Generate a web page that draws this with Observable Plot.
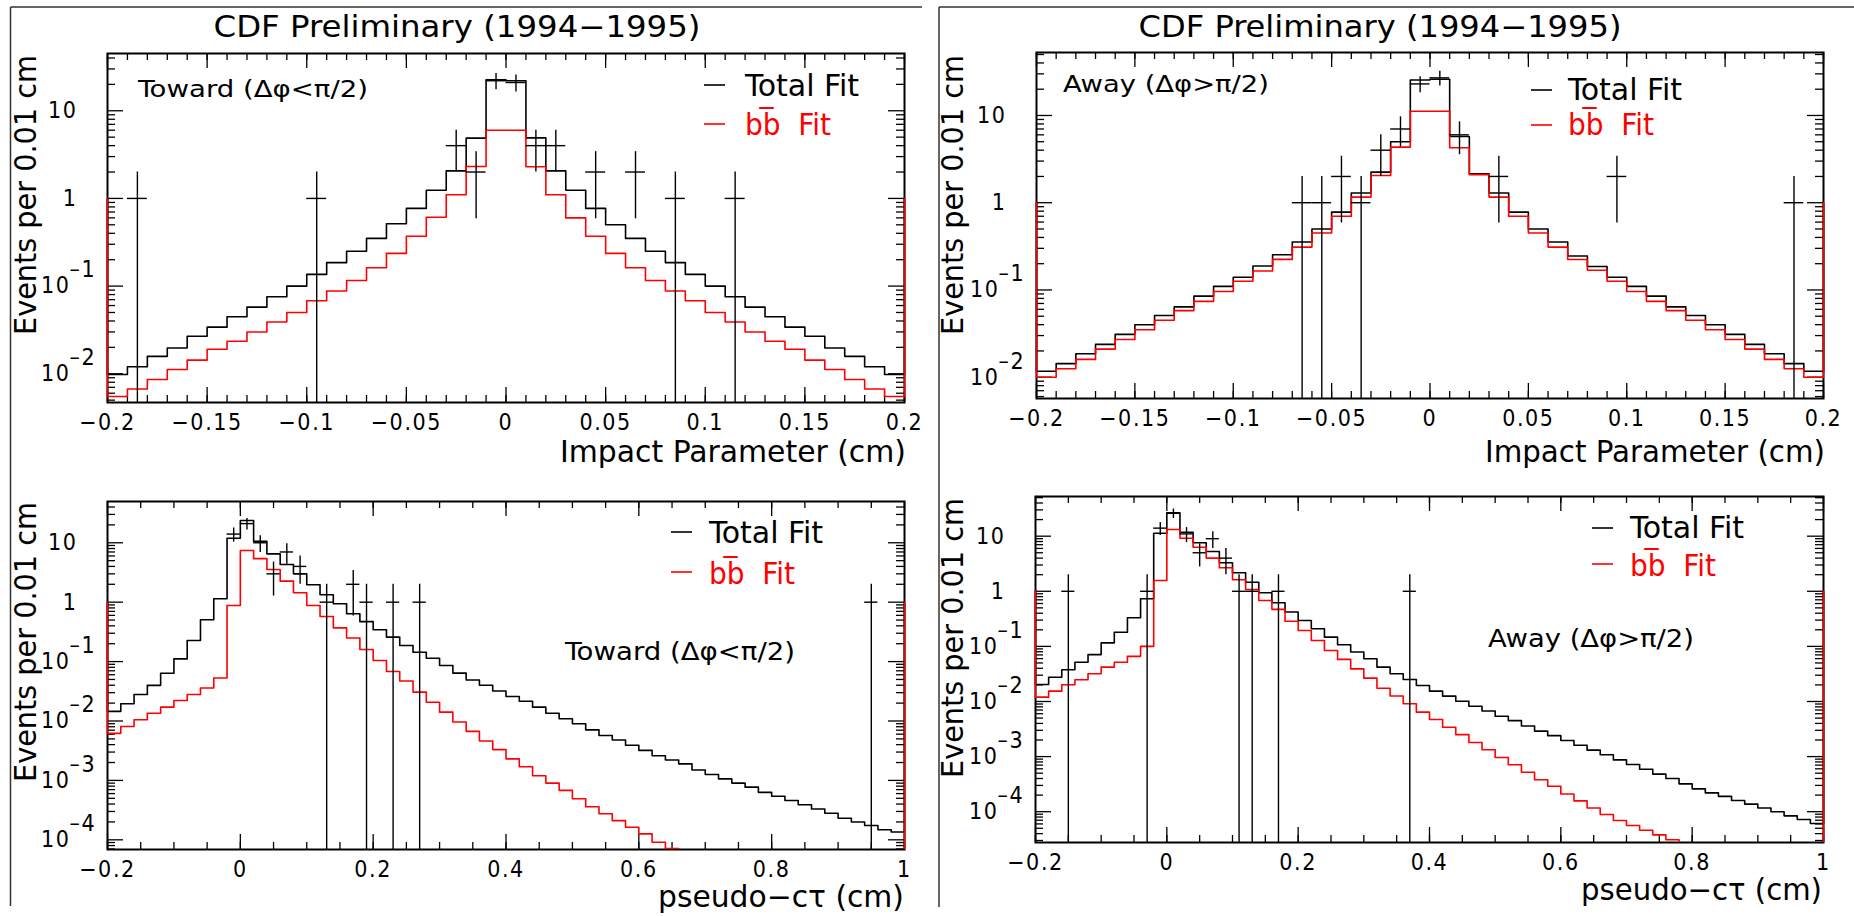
<!DOCTYPE html>
<html>
<head>
<meta charset="utf-8">
<script src="https://cdn.jsdelivr.net/npm/d3@7"></script>
<script src="https://cdn.jsdelivr.net/npm/@observablehq/plot@0.6"></script>
<style>
  html, body { margin: 0; padding: 0; background: #fff; }
  #page { position: relative; width: 1854px; height: 916px; overflow: hidden; background: #fff; }
  #page svg text { letter-spacing: 0.07em; white-space: pre; }
  #page svg.overlay text { letter-spacing: 0; }
  .panel { position: absolute; }
</style>
</head>
<body>
<div id="page"></div>
<script>
const FONT = '"DejaVu Sans Condensed", "DejaVu Sans", sans-serif';

// ---- Impact parameter: 40 bins of 0.01 cm starting at -0.2 cm ----
const ipBinStart = -0.2, ipBinWidth = 0.01;

const towardIpTotal = [0.0098, 0.012, 0.0158, 0.0197, 0.0268, 0.034, 0.0447, 0.0575, 0.0755, 0.1,
  0.136, 0.185, 0.25, 0.35, 0.515, 0.77, 1.24, 2.06, 4.88, 22.5,
  22, 4.9, 2.06, 1.24, 0.77, 0.5, 0.35, 0.25, 0.185, 0.136,
  0.1, 0.0755, 0.0575, 0.0447, 0.034, 0.0268, 0.0197, 0.0158, 0.012, 0.0098];
const towardIpBb = [0.0055, 0.0067, 0.0086, 0.0112, 0.0143, 0.019, 0.0235, 0.03, 0.039, 0.05,
  0.068, 0.088, 0.116, 0.162, 0.236, 0.37, 0.61, 1.1, 2.31, 6.0,
  6.0, 2.3, 1.1, 0.6, 0.37, 0.236, 0.162, 0.116, 0.088, 0.068,
  0.05, 0.039, 0.03, 0.0235, 0.019, 0.0143, 0.0112, 0.0086, 0.0067, 0.0055];
const towardIpX = [-0.185, -0.095, -0.025, -0.015, -0.005, 0.005, 0.015, 0.025, 0.045, 0.065, 0.085, 0.115];
const towardIpN = [1, 1, 4, 2, 22, 21, 4, 4, 2, 2, 1, 1];

const awayIpTotal = [0.0117, 0.0143, 0.0186, 0.0238, 0.031, 0.04, 0.051, 0.064, 0.085, 0.11,
  0.14, 0.188, 0.253, 0.354, 0.5, 0.78, 1.29, 2.24, 5.0, 25.5,
  26, 5.75, 2.15, 1.29, 0.78, 0.5, 0.355, 0.245, 0.186, 0.14,
  0.11, 0.085, 0.064, 0.051, 0.04, 0.031, 0.0238, 0.0186, 0.0143, 0.0117];
const awayIpBb = [0.01, 0.0125, 0.016, 0.021, 0.027, 0.035, 0.045, 0.058, 0.074, 0.096,
  0.126, 0.165, 0.224, 0.31, 0.45, 0.70, 1.16, 2.05, 4.34, 11.2,
  11.2, 4.26, 2.1, 1.16, 0.70, 0.45, 0.31, 0.223, 0.168, 0.126,
  0.096, 0.074, 0.058, 0.045, 0.035, 0.027, 0.021, 0.016, 0.0125, 0.01];
const awayIpX = [-0.065, -0.055, -0.045, -0.035, -0.025, -0.015, -0.005, 0.005, 0.015, 0.035, 0.095, 0.185];
const awayIpN = [1, 1, 2, 1, 4, 7, 23, 27, 6, 2, 2, 1];

// ---- Pseudo-c tau: 60 bins of 0.02 cm starting at -0.2 cm ----
const ctBinStart = -0.2, ctBinWidth = 0.02;

const towardCtTotal = [0.0145, 0.0195, 0.0279, 0.0398, 0.0638, 0.111, 0.226, 0.505, 1.14, 11.9,
  23.7, 10.6, 6.5, 4.3, 3.0, 1.96, 1.33, 0.94, 0.64, 0.47,
  0.343, 0.258, 0.187, 0.144, 0.114, 0.086, 0.064, 0.049, 0.04, 0.032,
  0.0258, 0.0215, 0.0171, 0.0135, 0.0109, 0.009, 0.0071, 0.0057, 0.0048, 0.0039,
  0.0032, 0.0026, 0.0022, 0.0019, 0.0015, 0.00126, 0.00106, 0.0009, 0.00077, 0.00063,
  0.00054, 0.00046, 0.00039, 0.00033, 0.00028, 0.00023, 0.0002, 0.000174, 0.000148, 0.000135];
const towardCtBb = [0.0062, 0.0081, 0.0105, 0.0135, 0.0171, 0.0221, 0.0279, 0.036, 0.053, 0.88,
  7.4, 5.4, 3.55, 2.26, 1.44, 0.88, 0.575, 0.37, 0.25, 0.16,
  0.104, 0.068, 0.047, 0.0306, 0.0207, 0.0141, 0.0096, 0.0067, 0.0046, 0.0033,
  0.0023, 0.0017, 0.0012, 0.0009, 0.00068, 0.00049, 0.00036, 0.000274, 0.00021, 0.000163,
  0.000126, 0.000091, 0.000071, 0.000052, 0.00004, 0.000031, 0.000024, 0.000018, 0.000014, 0.000011,
  0.0000085, 0.0000066, 0.0000051, 0.000004, 0.0000031, 0.0000024, 0.0000019, 0.0000015, 0.0000012, 0.0000009];
const towardCtX = [-0.01, 0.01, 0.03, 0.05, 0.07, 0.09, 0.13, 0.17, 0.19, 0.23, 0.27, 0.95];
const towardCtN = [14, 21, 10, 3, 7, 4, 1, 2, 1, 1, 1, 1];

const awayCtTotal = [0.0204, 0.0275, 0.0376, 0.0516, 0.071, 0.116, 0.181, 0.33, 0.73, 11.3,
  26.6, 11.8, 7.6, 5.27, 3.29, 2.17, 1.46, 0.94, 0.62, 0.42,
  0.295, 0.209, 0.147, 0.107, 0.079, 0.0596, 0.042, 0.0318, 0.025, 0.0195,
  0.0154, 0.0125, 0.0101, 0.0082, 0.0067, 0.0054, 0.0045, 0.0036, 0.0029, 0.0024,
  0.00196, 0.00161, 0.00131, 0.00108, 0.00087, 0.00072, 0.00059, 0.00048, 0.0004, 0.00032,
  0.00026, 0.00022, 0.00019, 0.00016, 0.000137, 0.000117, 0.0000995, 0.000084, 0.000072, 0.000061];
const awayCtBb = [0.012, 0.0154, 0.0201, 0.0248, 0.0318, 0.042, 0.0516, 0.066, 0.1, 1.57,
  13.2, 9.2, 6.3, 4.0, 2.67, 1.62, 1.08, 0.68, 0.47, 0.286,
  0.194, 0.128, 0.084, 0.058, 0.039, 0.0265, 0.0174, 0.0126, 0.0091, 0.0064,
  0.0047, 0.0034, 0.0025, 0.0018, 0.00133, 0.00096, 0.00071, 0.00052, 0.00038, 0.00029,
  0.00021, 0.000157, 0.000117, 0.000089, 0.000069, 0.000056, 0.000046, 0.000038, 0.000031, 0.000024,
  0.000019, 0.000015, 0.000012, 0.0000095, 0.0000075, 0.000006, 0.0000048, 0.0000038, 0.000003, 0.0000024];
const awayCtX = [-0.15, -0.03, -0.01, 0.01, 0.03, 0.05, 0.07, 0.09, 0.11, 0.13, 0.17, 0.37];
const awayCtN = [1, 1, 14, 26, 11, 5, 9, 4, 1, 1, 1, 1];

// ---- Axis ticks and labels ----
const ipMajorTicks = [-0.2, -0.15, -0.1, -0.05, 0, 0.05, 0.1, 0.15, 0.2];
const ipTickLabels = ["\u22120.2", "\u22120.15", "\u22120.1", "\u22120.05", "0", "0.05", "0.1", "0.15", "0.2"];
const ipMinorTicks = d3.range(41).map(i => +(-0.2 + i * 0.01).toFixed(3));

const ctMajorTicks = [-0.2, 0, 0.2, 0.4, 0.6, 0.8, 1];
const ctTickLabels = ["\u22120.2", "0", "0.2", "0.4", "0.6", "0.8", "1"];
const ctMinorTicks = d3.range(25).map(i => +(-0.2 + i * 0.05).toFixed(3));

const ipDecades = [10, 1, 0.1, 0.01];
const ctDecades = [10, 1, 0.1, 0.01, 0.001, 0.0001];

// Closed histogram outline drawn from the log-scale baseline (1) at both ends
function histOutline(vals, start, width) {
  const pts = [{x: start, y: 1}];
  vals.forEach((v, i) => {
    const x0 = start + i * width;
    pts.push({x: x0, y: v}, {x: x0 + width, y: v});
  });
  pts.push({x: start + vals.length * width, y: 1});
  return pts;
}

function drawPanel(cfg) {
  const {left, top, width, height, margin, xDomain, yDomain, binStart, binWidth,
         total, bb, dataX, dataN, xMinor, xMajor, xLabels, yMajor} = cfg;
  const [mt, mr, mb, ml] = margin;
  const fw = width - ml - mr, fh = height - mt - mb;

  const lo = Math.floor(Math.log10(yDomain[0])), hi = Math.ceil(Math.log10(yDomain[1]));
  const yMinor = [];
  for (let e = lo; e <= hi; e++) for (let k = 2; k <= 9; k++) {
    const v = k * Math.pow(10, e);
    if (v >= yDomain[0] && v <= yDomain[1]) yMinor.push(v);
  }
  const pts = dataX.map((x, i) => ({x, n: dataN[i]}));
  const tk = {stroke: "#000", strokeWidth: 1.3};

  const chart = Plot.plot({
    width, height,
    marginTop: mt, marginRight: mr, marginBottom: mb, marginLeft: ml,
    x: {type: "linear", domain: xDomain, axis: null},
    y: {type: "log", domain: yDomain, axis: null},
    style: {fontFamily: FONT, fontSize: "23px", background: "transparent", overflow: "visible", color: "#000"},
    marks: [
      Plot.tickX(xMinor, {x: d => d, insetTop: fh - 7, ...tk}),
      Plot.tickX(xMinor, {x: d => d, insetBottom: fh - 7, ...tk}),
      Plot.tickX(xMajor, {x: d => d, insetTop: fh - 15, ...tk}),
      Plot.tickX(xMajor, {x: d => d, insetBottom: fh - 15, ...tk}),
      Plot.tickY(yMinor, {y: d => d, insetRight: fw - 8, ...tk}),
      Plot.tickY(yMinor, {y: d => d, insetLeft: fw - 8, ...tk}),
      Plot.tickY(yMajor, {y: d => d, insetRight: fw - 16, ...tk}),
      Plot.tickY(yMajor, {y: d => d, insetLeft: fw - 16, ...tk}),
      Plot.frame({stroke: "#000", strokeWidth: 2}),
      Plot.text(xMajor, {x: d => d, text: (d, i) => xLabels[i], frameAnchor: "bottom", lineAnchor: "bottom", dy: 27}),
      Plot.text(yMajor.filter(d => d >= 1), {y: d => d, text: d => String(d), frameAnchor: "left", textAnchor: "end", dx: -30}),
      Plot.text(yMajor.filter(d => d < 1), {y: d => d, text: () => "10", frameAnchor: "left", textAnchor: "end", dx: -37}),
      Plot.text(yMajor.filter(d => d < 1), {y: d => d, text: d => "\u2013" + Math.round(-Math.log10(d)), frameAnchor: "left", textAnchor: "start", dx: -38, dy: -16}),
      Plot.line(histOutline(total, binStart, binWidth), {x: "x", y: "y", stroke: "#000", strokeWidth: 1.6, clip: true}),
      Plot.line(histOutline(bb, binStart, binWidth), {x: "x", y: "y", stroke: "#ff0000", strokeWidth: 1.6, clip: true}),
      Plot.ruleY(pts, {y: "n", x1: d => d.x - binWidth / 2, x2: d => d.x + binWidth / 2, stroke: "#000", strokeWidth: 1.4}),
      Plot.ruleX(pts, {x: "x", y1: d => Math.max(d.n - Math.sqrt(d.n), yDomain[0]), y2: d => d.n + Math.sqrt(d.n), stroke: "#000", strokeWidth: 1.4})
    ]
  });
  // let the outline sitting on the frame edges show its full width
  chart.querySelectorAll("clipPath rect").forEach(r => {
    r.setAttribute("x", +r.getAttribute("x") - 3);
    r.setAttribute("width", +r.getAttribute("width") + 6);
  });
  const wrap = document.createElement("div");
  wrap.className = "panel";
  wrap.style.left = left + "px";
  wrap.style.top = top + "px";
  wrap.appendChild(chart);
  document.getElementById("page").appendChild(wrap);
}

drawPanel({left: 0, top: 0, width: 927, height: 475, margin: [53, 23, 73, 107],
  xDomain: [-0.2, 0.2], yDomain: [0.0047, 45], binStart: ipBinStart, binWidth: ipBinWidth,
  total: towardIpTotal, bb: towardIpBb, dataX: towardIpX, dataN: towardIpN,
  xMinor: ipMinorTicks, xMajor: ipMajorTicks, xLabels: ipTickLabels, yMajor: ipDecades});

drawPanel({left: 927, top: 0, width: 927, height: 475, margin: [52, 31, 77, 109],
  xDomain: [-0.2, 0.2], yDomain: [0.0057, 52.7], binStart: ipBinStart, binWidth: ipBinWidth,
  total: awayIpTotal, bb: awayIpBb, dataX: awayIpX, dataN: awayIpN,
  xMinor: ipMinorTicks, xMajor: ipMajorTicks, xLabels: ipTickLabels, yMajor: ipDecades});

drawPanel({left: 0, top: 475, width: 927, height: 441, margin: [26, 23, 67, 107],
  xDomain: [-0.2, 1], yDomain: [0.0000687, 49.5], binStart: ctBinStart, binWidth: ctBinWidth,
  total: towardCtTotal, bb: towardCtBb, dataX: towardCtX, dataN: towardCtN,
  xMinor: ctMinorTicks, xMajor: ctMajorTicks, xLabels: ctTickLabels, yMajor: ctDecades});

drawPanel({left: 927, top: 475, width: 927, height: 441, margin: [21, 31, 74, 108],
  xDomain: [-0.2, 1], yDomain: [0.0000276, 52.5], binStart: ctBinStart, binWidth: ctBinWidth,
  total: awayCtTotal, bb: awayCtBb, dataX: awayCtX, dataN: awayCtN,
  xMinor: ctMinorTicks, xMajor: ctMajorTicks, xLabels: ctTickLabels, yMajor: ctDecades});

// ---- Titles, axis titles, region labels, legends and page borders ----
const svg = d3.select("#page").append("svg")
  .attr("class", "overlay")
  .attr("width", 1854).attr("height", 916)
  .style("position", "absolute").style("left", 0).style("top", 0)
  .style("pointer-events", "none")
  .attr("font-family", FONT);

const border = [[10.5, 7, 10.5, 906], [10.5, 7, 922, 7], [939, 7, 939, 907], [939, 7, 1854, 7]];
border.forEach(([x1, y1, x2, y2]) => svg.append("line")
  .attr("x1", x1).attr("y1", y1).attr("x2", x2).attr("y2", y2)
  .attr("stroke", "#333").attr("stroke-width", 1.5));

// text stretched to the set run length, like the stroked plotting font
function label(txt, x, y, size, len, anchor = "start", fill = "#000", rotate = 0) {
  const t = svg.append("text").attr("x", x).attr("y", y)
    .attr("font-size", size).attr("text-anchor", anchor).attr("fill", fill)
    .attr("textLength", len).attr("lengthAdjust", "spacingAndGlyphs").text(txt);
  if (rotate) t.attr("transform", `rotate(${rotate},${x},${y})`).attr("dy", "0.36em");
  return t;
}

const titleText = "CDF Preliminary (1994\u22121995)";
label(titleText, 457, 37, 30, 487, "middle");
label(titleText, 1380, 37, 30, 483, "middle");

label("Impact Parameter (cm)", 906, 462, 30, 346, "end");
label("Impact Parameter (cm)", 1825, 462, 30, 340, "end");
label("pseudo\u2212c\u03c4 (cm)", 904, 907, 30, 246, "end");
label("pseudo\u2212c\u03c4 (cm)", 1822, 900, 30, 241, "end");

label("Events per 0.01 cm", 25.5, 55, 30, 280, "end", "#000", -90);
label("Events per 0.01 cm", 952, 55, 30, 280, "end", "#000", -90);
label("Events per 0.01 cm", 25.5, 502, 30, 280, "end", "#000", -90);
label("Events per 0.01 cm", 952, 498, 30, 280, "end", "#000", -90);

const toward = "Toward (\u0394\u03c6<\u03c0/2)";
const away = "Away (\u0394\u03c6>\u03c0/2)";
label(toward, 138, 97, 23, 230);
label(away, 1063, 92, 23, 206);
label(toward, 565, 660, 24, 230);
label(away, 1488, 647, 24, 206);

const legends = [
  {x: 704, y1: 85, y2: 124, tx: 745, b1: 96, b2: 135},
  {x: 1531, y1: 90, y2: 125, tx: 1568, b1: 100, b2: 135},
  {x: 671, y1: 532, y2: 572, tx: 709, b1: 543, b2: 584},
  {x: 1592, y1: 528, y2: 564, tx: 1630, b1: 538, b2: 576}
];
legends.forEach(l => {
  svg.append("line").attr("x1", l.x).attr("x2", l.x + 21).attr("y1", l.y1).attr("y2", l.y1)
    .attr("stroke", "#000").attr("stroke-width", 1.6);
  svg.append("line").attr("x1", l.x).attr("x2", l.x + 21).attr("y1", l.y2).attr("y2", l.y2)
    .attr("stroke", "#ff0000").attr("stroke-width", 1.6);
  label("Total Fit", l.tx, l.b1, 30, 114);
  label("bb\u0305  Fit", l.tx, l.b2, 30, 86, "start", "#ff0000");
});
</script>
</body>
</html>
